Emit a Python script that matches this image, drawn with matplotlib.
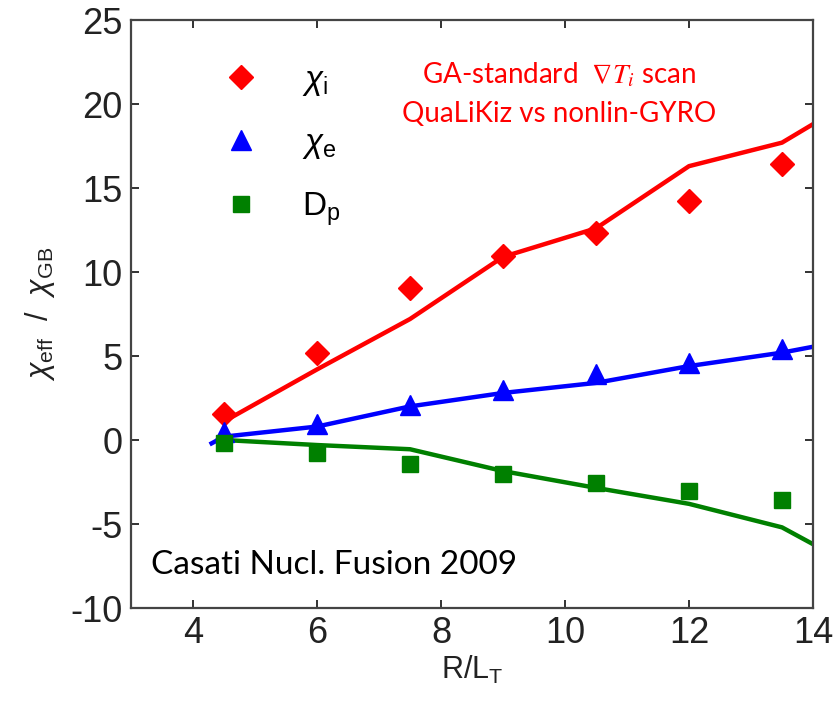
import matplotlib
matplotlib.use("Agg")
import matplotlib.pyplot as plt
from matplotlib.lines import Line2D

plt.rcParams['font.family'] = ['Liberation Sans', 'DejaVu Sans']
plt.rcParams['mathtext.fontset'] = 'custom'
plt.rcParams['mathtext.rm'] = 'Liberation Sans'
plt.rcParams['mathtext.it'] = 'Liberation Sans:italic'
plt.rcParams['axes.unicode_minus'] = False

# scan points (R/L_T)
x_pts = [4.5, 6, 7.5, 9, 10.5, 12, 13.5]
chi_i_gyro = [1.55, 5.2, 9.05, 10.95, 12.3, 14.2, 16.4]
chi_e_gyro = [0.45, 0.95, 2.1, 3.0, 3.9, 4.6, 5.4]
dp_gyro = [-0.2, -0.8, -1.45, -2.05, -2.55, -3.05, -3.6]

# QuaLiKiz curves
x_qlk_i = [4.5, 6, 7.5, 9, 10.5, 12, 13.5, 14]
chi_i_qlk = [1.1, 4.2, 7.2, 10.9, 12.6, 16.3, 17.7, 18.8]
x_qlk_e = [4.3, 4.5, 6, 7.5, 9, 10.5, 12, 13.5, 14]
chi_e_qlk = [-0.2, 0.2, 0.8, 2.0, 2.8, 3.4, 4.4, 5.2, 5.55]
x_qlk_d = [4.5, 6, 7.5, 9, 10.5, 12, 13.5, 14]
dp_qlk = [0.0, -0.3, -0.55, -1.85, -2.85, -3.8, -5.2, -6.2]

xticks = [4, 6, 8, 10, 12, 14]
yticks = [-10, -5, 0, 5, 10, 15, 20, 25]

fig = plt.figure(figsize=(8.33, 7.02), dpi=100)
ax = fig.add_axes([131/833, 1-608/702, (813-131)/833, (608-20)/702])

red, blue, green = '#ff0000', '#0000ff', '#008000'
ax.plot(x_qlk_i, chi_i_qlk, color=red, lw=3.2)
ax.plot(x_qlk_e, chi_e_qlk, color=blue, lw=3.2)
ax.plot(x_qlk_d, dp_qlk, color=green, lw=3.2)
ax.plot(x_pts, chi_i_gyro, 'D', color=red, ms=12, ls='none')
ax.plot(x_pts, chi_e_gyro, '^', color=blue, ms=15, ls='none')
ax.plot(x_pts, dp_gyro, 's', color=green, ms=12, ls='none')

handles = [Line2D([], [], marker='D', color=red, ms=12, ls='none'),
           Line2D([], [], marker='^', color=blue, ms=15, ls='none'),
           Line2D([], [], marker='s', color=green, ms=12, ls='none')]
labels = [r'$\chi_{\rm i}$', r'$\chi_{\rm e}$', r'$\mathrm{D}_{\rm p}$']
leg = ax.legend(handles, labels, loc='upper left', bbox_to_anchor=(0.08, 0.975),
                frameon=False, fontsize=24, labelspacing=0.9, handletextpad=1.1,
                handlelength=1.5)

ax.set_xlim(3, 14)
ax.set_ylim(-10, 25)
ax.set_xticks(xticks)
ax.set_yticks(yticks)
ax.tick_params(direction='in', length=6, width=1.3, top=True, right=True,
               labelsize=26, colors='#222222', pad=6)
for s in ax.spines.values():
    s.set_linewidth(1.6)
    s.set_color('#444444')

ax.set_xlabel(r'R/L$_{\rm T}$', fontsize=22, labelpad=2, color='#222222')
ax.set_ylabel(r'$\chi_{\rm eff}$  /  $\chi_{\rm GB}$', fontsize=22, labelpad=10, color='#222222')

ax.text(0.627, 0.907, r'GA-standard  $\nabla T_i$ scan', transform=ax.transAxes,
        ha='center', va='center', color=red, fontsize=20, family='Lato',
        math_fontfamily='stix')
ax.text(0.627, 0.84, 'QuaLiKiz vs nonlin-GYRO', transform=ax.transAxes,
        ha='center', va='center', color=red, fontsize=20, family='Lato')
ax.text(0.03, 0.073, 'Casati Nucl. Fusion 2009', transform=ax.transAxes,
        ha='left', va='center', color='black', fontsize=24, family='Lato')

fig.savefig('out.png', dpi=100)
